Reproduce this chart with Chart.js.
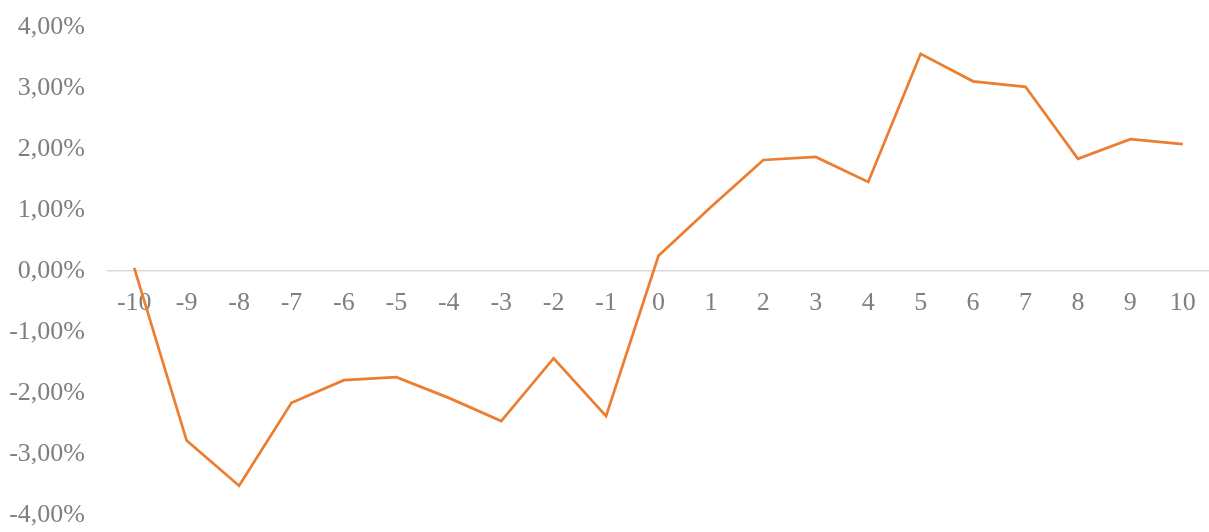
<!DOCTYPE html>
<html lang="es">
<head>
    <meta charset="UTF-8">
    <title>Rentabilidad acumulada</title>
    <script src="https://cdn.jsdelivr.net/npm/chart.js"></script>
    <style>
        body {
            margin: 0;
            padding: 0;
            background-color: #fff;
            overflow: hidden;
        }

        .chart-container {
            width: 1209px;
            height: 532px;
        }
    </style>
</head>
<body>
<div class="chart-container">
    <canvas id="lineChart"></canvas>
</div>

<script>
    // Días relativos al evento
    var days = ['-10', '-9', '-8', '-7', '-6', '-5', '-4', '-3', '-2', '-1', '0',
                '1', '2', '3', '4', '5', '6', '7', '8', '9', '10'];

    // Valores en %
    var returns = [0.05, -2.78, -3.52, -2.16, -1.79, -1.74, -2.08, -2.46, -1.43, -2.38, 0.25,
                   1.05, 1.82, 1.87, 1.46, 3.56, 3.11, 3.02, 1.84, 2.16, 2.08];

    var yMin = -4;
    var yMax = 4;
    var yStep = 1;

    var labelFont = { family: "'Liberation Serif', 'Times New Roman', serif", size: 26 };
    var labelColor = '#7f7f7f';

    var ctx = document.getElementById('lineChart').getContext('2d');
    var chart = new Chart(ctx, {
        type: 'line',
        data: {
            labels: days,
            datasets: [{
                label: 'Rentabilidad',
                data: returns,
                borderColor: '#ed7d31',
                borderWidth: 2.75,
                pointRadius: 0,
                fill: false,
                tension: 0
            }]
        },
        options: {
            responsive: true,
            maintainAspectRatio: false,
            animation: false,
            layout: {
                padding: { left: 8, top: 27, bottom: 17, right: 0 }
            },
            plugins: {
                legend: { display: false },
                tooltip: { enabled: false }
            },
            scales: {
                x: {
                    position: { y: 0 },
                    offset: true,
                    grid: { display: false, drawTicks: false },
                    border: { display: true, color: '#d9d9d9', width: 1.5 },
                    ticks: {
                        color: labelColor,
                        font: labelFont,
                        padding: 17,
                        maxRotation: 0,
                        autoSkip: false
                    },
                    afterFit: function (scale) {
                        scale.paddingLeft = 0;
                        scale.paddingRight = 0;
                    }
                },
                y: {
                    min: yMin,
                    max: yMax,
                    grid: { display: false, drawTicks: false },
                    border: { display: false },
                    ticks: {
                        stepSize: yStep,
                        color: labelColor,
                        font: labelFont,
                        padding: 23,
                        callback: function (value) {
                            return value.toFixed(2).replace('.', ',') + '%';
                        }
                    },
                    afterFit: function (scale) {
                        scale.width = 100;
                        scale.paddingTop = 0;
                        scale.paddingBottom = 0;
                    }
                }
            }
        }
    });
</script>
</body>
</html>
